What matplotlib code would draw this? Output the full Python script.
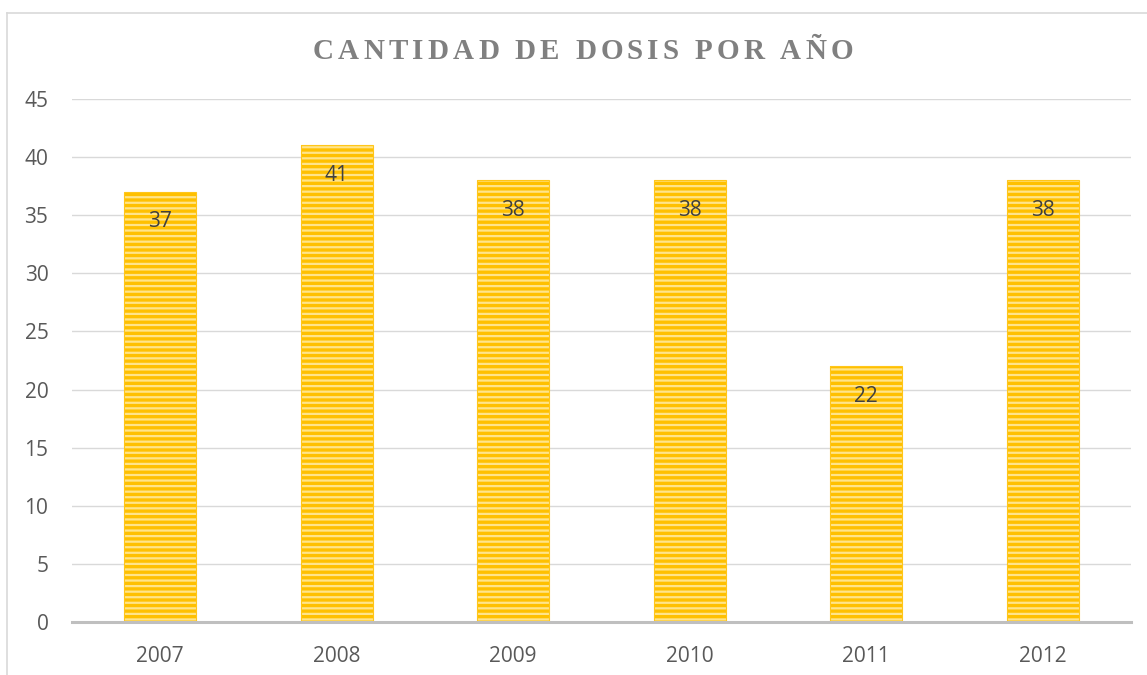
import matplotlib
matplotlib.use("Agg")
import matplotlib.pyplot as plt
from matplotlib.lines import Line2D
from matplotlib.font_manager import FontProperties

years = ["2007", "2008", "2009", "2010", "2011", "2012"]
doses = [37, 41, 38, 38, 22, 38]
yticks = [0, 5, 10, 15, 20, 25, 30, 35, 40, 45]
title = "CANTIDAD DE DOSIS POR AÑO"

plt.rcParams['hatch.linewidth'] = 1.6
plt.rcParams['font.family'] = ['Open Sans', 'DejaVu Sans']

W, H = 1147, 675
fig = plt.figure(figsize=(W/100, H/100), dpi=100)
ax = fig.add_axes([72/W, (H-622)/H, (1131-72)/W, (622-99)/H])

x = list(range(len(years)))
ax.bar(x, doses, width=0.41, color="#FFC000", edgecolor="#FFE48A",
       hatch="---", linewidth=0, zorder=3)
ax.bar(x, doses, width=0.41, fill=False, edgecolor="#FFC61A", linewidth=0.8, zorder=4)

for xi, v in zip(x, doses):
    ax.annotate(str(v), (xi, v), xytext=(0, -21.5), textcoords="offset points",
                ha="center", va="center", fontsize=15, color="#404040", zorder=5)

ax.set_xlim(-0.5, len(years) - 0.5)
ax.set_ylim(0, 45)
ax.set_yticks(yticks)
ax.set_xticks(x)
ax.set_xticklabels(years)
ax.tick_params(axis="both", length=0, labelsize=15, labelcolor="#595959")
ax.tick_params(axis="x", pad=17)
ax.tick_params(axis="y", pad=17)
ax.grid(axis="y", color="#D9D9D9", linewidth=1, zorder=0)
for s in ["top", "right", "left"]:
    ax.spines[s].set_visible(False)
ax.spines["bottom"].set_color("#BFBFBF")
ax.spines["bottom"].set_linewidth(2.2)
ax.spines["bottom"].set_zorder(6)

# letter-spaced title
fp = FontProperties(family="Liberation Serif", weight="bold", size=21)
renderer = fig.canvas.get_renderer()
widths = [renderer.get_text_width_height_descent(c, fp, ismath=False)[0] for c in title]
target = 853 - 313
extra = (target - sum(widths)) / (len(title) - 1)
cx = 313
for c, w in zip(title, widths):
    fig.text(cx / W, 1 - 51.5 / H, c, ha="left", va="center", fontproperties=fp,
             color="#808080")
    cx += w + extra

# chart border (top and left visible)
fig.add_artist(Line2D([7/W, 1], [1 - 13/H, 1 - 13/H], color="#D9D9D9", linewidth=1.2,
                      transform=fig.transFigure))
fig.add_artist(Line2D([7/W, 7/W], [0, 1 - 13/H], color="#D9D9D9", linewidth=1.2,
                      transform=fig.transFigure))

fig.savefig("out.png", dpi=100)
